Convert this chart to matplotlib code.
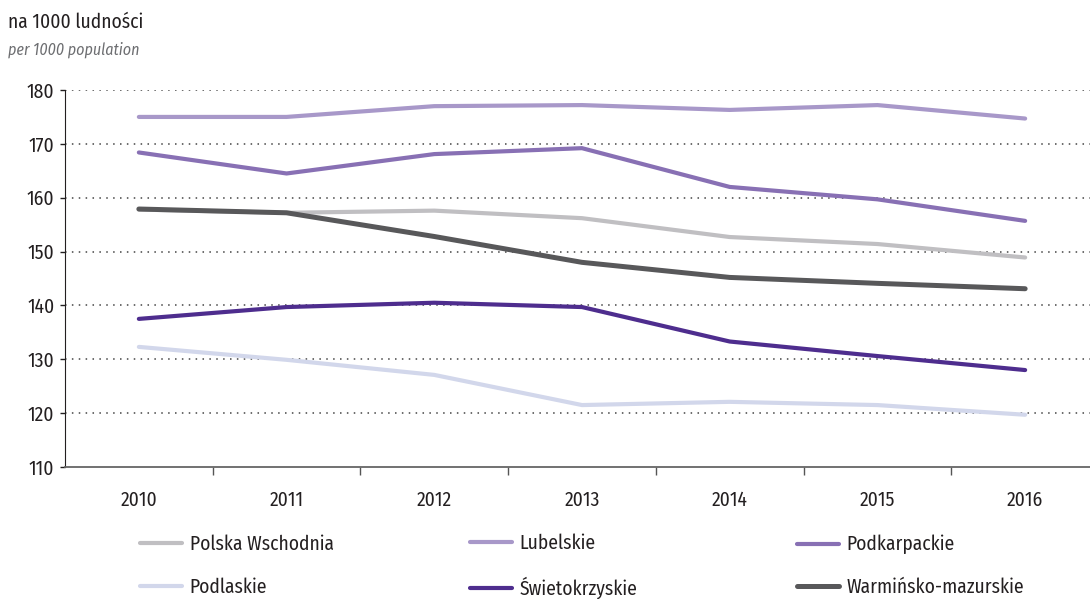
import numpy as np
import matplotlib.pyplot as plt

plt.rcParams['font.family'] = ['Fira Sans Condensed', 'DejaVu Sans']
plt.rcParams['font.stretch'] = 'condensed'

years = ['2010', '2011', '2012', '2013', '2014', '2015', '2016']

polska_wschodnia = [157.8, 157.2, 157.6, 156.2, 152.7, 151.4, 148.9]
lubelskie = [175.0, 175.0, 177.0, 177.2, 176.3, 177.2, 174.7]
podkarpackie = [168.4, 164.5, 168.1, 169.2, 162.0, 159.7, 155.7]
podlaskie = [132.3, 129.9, 127.1, 121.5, 122.1, 121.5, 119.7]
swietokrzyskie = [137.5, 139.7, 140.5, 139.7, 133.3, 130.6, 128.0]
warminsko = [157.9, 157.2, 152.8, 148.0, 145.2, 144.1, 143.1]

series = [
    ('Polska Wschodnia', polska_wschodnia, '#c0bfc2', 3.0),
    ('Lubelskie', lubelskie, '#a898c9', 3.0),
    ('Podkarpackie', podkarpackie, '#8870b4', 3.0),
    ('Podlaskie', podlaskie, '#d2d7eb', 3.0),
    ('Świetokrzyskie', swietokrzyskie, '#4e2d8e', 3.0),
    ('Warmińsko-mazurskie', warminsko, '#58585a', 3.6),
]

fig = plt.figure(figsize=(10.9, 5.99), dpi=100)
ax = fig.add_axes([65 / 1090, 1 - 467 / 599, 1034 / 1090, 377 / 599])

x = np.arange(len(years))
lines = {}
for name, vals, col, lw in series:
    ln, = ax.plot(x, vals, color=col, lw=lw, solid_capstyle='round',
                  solid_joinstyle='round', label=name, zorder=3)
    lines[name] = ln

ax.set_xlim(-0.5, 6.5)
ax.set_ylim(110, 180)
ax.set_yticks(np.arange(110, 181, 10))
ax.set_xticks(x)
ax.set_xticklabels(years)
ax.set_xticks(np.arange(0.5, 6, 1), minor=True)
ax.tick_params(axis='x', which='major', length=0, pad=17, labelsize=14, colors='#231f20')
ax.tick_params(axis='x', which='minor', length=6, width=1, color='#555555', direction='out')
ax.tick_params(axis='y', length=3.6, width=1, color='#231f20', pad=4, labelsize=14,
               labelcolor='#231f20')

for v in range(120, 181, 10):
    ax.axhline(v, color='#444444', lw=1.1, ls=(0, (1, 3.5)), zorder=1)

for s in ['top', 'right']:
    ax.spines[s].set_visible(False)
ax.spines['left'].set_color('#231f20')
ax.spines['bottom'].set_color('#666666')
ax.spines['bottom'].set_linewidth(1.3)

fig.text(8 / 1090, 1 - 22 / 599, 'na 1000 ludności', fontsize=14, color='#231f20', va='center')
fig.text(8 / 1090, 1 - 50 / 599, 'per 1000 population', fontsize=11.5, color='#6d6e71',
         style='italic', va='center')

# legend: three columns of two entries each
cols = [(140, ['Polska Wschodnia', 'Podlaskie']),
        (470, ['Lubelskie', 'Świetokrzyskie']),
        (797, ['Podkarpackie', 'Warmińsko-mazurskie'])]
for xpix, names in cols:
    leg = fig.legend([lines[n] for n in names], names, loc='center left',
                     bbox_to_anchor=(xpix / 1090, 1 - 566 / 599), frameon=False,
                     borderpad=0, borderaxespad=0, handlelength=2.15, handletextpad=0.4,
                     labelspacing=1.2, fontsize=14)
    for t in leg.get_texts():
        t.set_color('#231f20')

fig.savefig('out.png', dpi=100)
